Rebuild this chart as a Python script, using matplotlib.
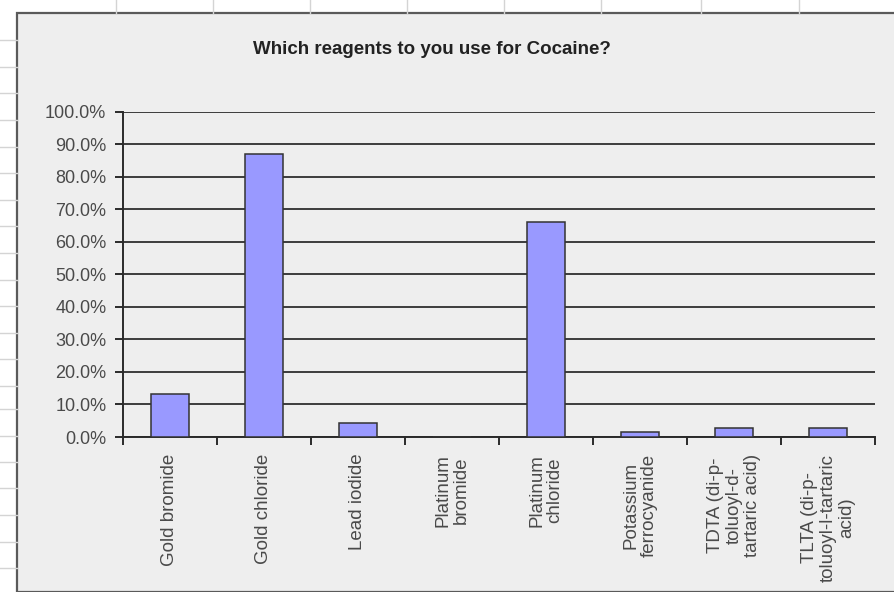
"""Excel-style bar chart: which reagents are used for cocaine."""

import matplotlib
matplotlib.use("Agg")

import matplotlib.pyplot as plt
from matplotlib.lines import Line2D
from matplotlib.patches import Rectangle
from matplotlib.ticker import FuncFormatter, MultipleLocator

# ── Data ──────────────────────────────────────────────────────────────────────

categories = [
    "Gold bromide",
    "Gold chloride",
    "Lead iodide",
    "Platinum\nbromide",
    "Platinum\nchloride",
    "Potassium\nferrocyanide",
    "TDTA (di-p-\ntoluoyl-d-\ntartaric acid)",
    "TLTA (di-p-\ntoluoyl-l-tartaric\nacid)",
]
share_pct = [13.2, 86.8, 4.4, 0.0, 66.2, 1.5, 2.9, 2.9]
title = "Which reagents to you use for Cocaine?"

# ── Figure / sheet background ─────────────────────────────────────────────────

W, H = 895, 592
plt.rcParams["font.family"] = ["Liberation Sans", "DejaVu Sans"]

fig = plt.figure(figsize=(W / 100, H / 100), dpi=100)
fig.patch.set_facecolor("white")


def fx(x):
    return x / W


def fy(y):
    return 1 - y / H


# spreadsheet cell lines peeking around the chart object
grid_col = "#d4d4d4"
for y in [40, 67, 93, 120, 147, 173, 200, 226, 253, 280, 306, 333, 359,
          386, 409, 436, 462, 488, 515, 542, 568]:
    fig.add_artist(Line2D([0, fx(17)], [fy(y), fy(y)], color=grid_col,
                          lw=1, transform=fig.transFigure))
for x in [116, 213, 310, 407, 504, 601, 701, 799]:
    fig.add_artist(Line2D([fx(x), fx(x)], [1, fy(13)], color=grid_col,
                          lw=1, transform=fig.transFigure))

# chart object area
fig.add_artist(Rectangle((fx(17), 0), 1.0, fy(13), transform=fig.transFigure,
                         facecolor="#eeeeee", edgecolor="#5a5a5a", lw=1.6,
                         clip_on=False, zorder=0))

# ── Plot area ─────────────────────────────────────────────────────────────────

ax = fig.add_axes([fx(123), fy(437), fx(875) - fx(123), fy(111.5) - fy(437)])
ax.set_facecolor("none")

x = list(range(len(categories)))
ax.bar(x, share_pct, width=0.4, color="#9999ff", edgecolor="#333333",
       linewidth=1.1, zorder=3)

ax.set_xlim(-0.5, len(categories) - 0.5)
ax.set_ylim(0, 100)
ax.yaxis.set_major_locator(MultipleLocator(10))
ax.yaxis.set_major_formatter(FuncFormatter(lambda v, _: f"{v:.1f}%"))
ax.grid(axis="y", color="#3c3c3c", linewidth=1.4, zorder=1)
ax.set_axisbelow(True)

for side in ["top", "right"]:
    ax.spines[side].set_visible(False)
for side in ["left", "bottom"]:
    ax.spines[side].set_color("#2a2a2a")
    ax.spines[side].set_linewidth(1.4)

ax.tick_params(axis="y", direction="out", length=6, width=1.4,
               color="#2a2a2a", labelsize=13, labelcolor="#4a4a4a", pad=6)

# category tick marks sit on the boundaries, labels on the centres
ax.set_xticks([i - 0.5 for i in range(len(categories) + 1)])
ax.set_xticklabels([])
ax.set_xticks(x, minor=True)
ax.set_xticklabels(categories, minor=True, rotation=90, ha="center", va="top",
                   multialignment="center", fontsize=13.5, color="#4a4a4a",
                   linespacing=1.1)
ax.tick_params(axis="x", which="major", direction="out", length=6, width=1.4,
               color="#2a2a2a")
ax.tick_params(axis="x", which="minor", length=0, pad=12)

fig.text(fx(432), fy(50), title, ha="center", va="center", fontsize=13.5,
         fontweight="bold", color="#222222")

fig.savefig("out.png", dpi=100, facecolor=fig.get_facecolor())
